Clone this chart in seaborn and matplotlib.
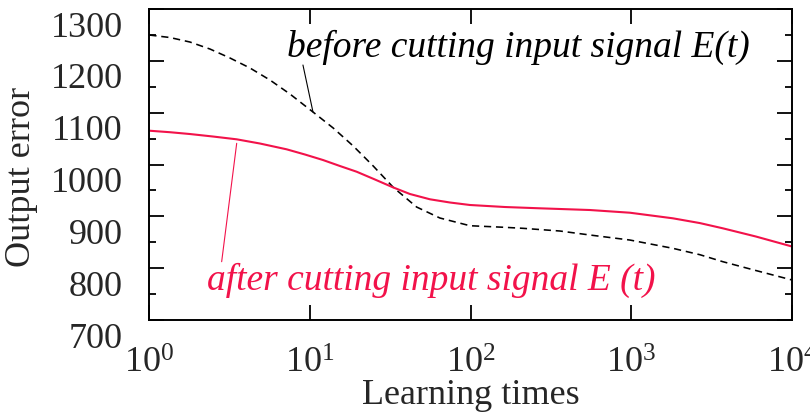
import numpy as np
import pandas as pd
import matplotlib
matplotlib.use("Agg")
import matplotlib.pyplot as plt
from matplotlib.ticker import MultipleLocator, FixedLocator, NullLocator, LogFormatterMathtext
from matplotlib.transforms import ScaledTranslation
import seaborn as sns

# Output error versus learning times, before and after the input signal is cut
before_times = [1, 1.343, 1.789, 2.383, 3.174, 4.227, 5.63, 7.499, 10.43, 13.94, 18.57,
                24.74, 32.95, 46.06, 64.3, 98.9, 163.2, 211.3, 358.9, 551.9, 978.8,
                1813, 2669, 3710, 5954, 10000]
before_error = [1249.8, 1245.0, 1236.3, 1222.8, 1205.5, 1186.2, 1163.0, 1136.0, 1101.3,
                1070.4, 1035.7, 997.1, 956.0, 918.0, 896.8, 881.9, 878.8, 876.9, 871.7,
                864.0, 854.3, 838.3, 826.0, 812.5, 795.5, 777.2]

after_times = [1, 1.343, 1.789, 2.488, 3.494, 4.878, 7.152, 9.296, 12.03, 15.35, 19.5,
               25.34, 32.81, 41.85, 55.74, 74.25, 98.86, 163.2, 269.6, 551.9, 978.8,
               1813, 2669, 3710, 5954, 10000]
after_error = [1065.2, 1062.3, 1058.8, 1054.0, 1048.6, 1040.5, 1029.3, 1019.3, 1008.7,
               997.1, 986.1, 971.1, 956.0, 943.1, 932.9, 926.7, 921.9, 918.0, 915.5,
               912.2, 907.0, 896.2, 887.0, 876.9, 861.1, 841.8]

y_ticks = [700, 800, 900, 1000, 1100, 1200, 1300]
x_ticks = [1, 10, 100, 1000, 10000]

RED = "#f2124a"

sns.set_style("ticks")
plt.rcParams["font.family"] = ["Liberation Serif", "DejaVu Serif"]
plt.rcParams["mathtext.fontset"] = "stix"

fig = plt.figure(figsize=(8.1, 4.15), dpi=100)
ax = fig.add_axes([0.1844, 0.2289, 0.7934, 0.7494])

df_before = pd.DataFrame({"t": before_times, "err": before_error})
df_after = pd.DataFrame({"t": after_times, "err": after_error})

sns.lineplot(data=df_before, x="t", y="err", ax=ax, color="black",
             linewidth=1.15, linestyle=(0, (4.5, 3)))
sns.lineplot(data=df_after, x="t", y="err", ax=ax, color=RED, linewidth=1.5)

ax.set_xscale("log")
ax.set_xlim(1, 10000)
ax.set_ylim(700, 1300)
ax.xaxis.set_major_locator(FixedLocator(x_ticks))
ax.xaxis.set_major_formatter(LogFormatterMathtext())
ax.xaxis.set_minor_locator(NullLocator())
ax.yaxis.set_major_locator(FixedLocator(y_ticks))
ax.yaxis.set_minor_locator(MultipleLocator(50))

for sp in ax.spines.values():
    sp.set_visible(True)
    sp.set_linewidth(1.4)
    sp.set_color("black")

ax.tick_params(which="both", direction="in", top=True, right=True,
               width=1.3, color="black")
ax.tick_params(which="major", length=10.5)
ax.tick_params(which="minor", length=5)
ax.tick_params(axis="y", which="major", labelsize=26, pad=19)
ax.tick_params(axis="x", which="major", labelsize=26, pad=20)

# y tick labels sit slightly below their ticks
shift = ScaledTranslation(0, -0.15, fig.dpi_scale_trans)
for lab in ax.get_yticklabels():
    lab.set_transform(lab.get_transform() + shift)

ax.set_xlabel("Learning times", fontsize=26)
ax.xaxis.set_label_coords(0.5, -0.19)
ax.set_ylabel("Output error", fontsize=26)
ax.yaxis.set_label_coords(-0.173, 0.46)

# curve annotations with leader lines
ax.text(0.214, 0.846, "before cutting input signal E(t)", transform=ax.transAxes,
        fontsize=27, style="italic", ha="left", va="baseline", color="black")
ax.plot([0.2390, 0.2546], [0.8199, 0.6688], transform=ax.transAxes,
        color="black", linewidth=0.8)

ax.text(0.0896, 0.0965, "after cutting input signal E (t)", transform=ax.transAxes,
        fontsize=27, style="italic", ha="left", va="baseline", color=RED)
ax.plot([0.1359, 0.1125], [0.5682, 0.1875], transform=ax.transAxes,
        color=RED, linewidth=0.8)

fig.savefig("out.png", dpi=100)
